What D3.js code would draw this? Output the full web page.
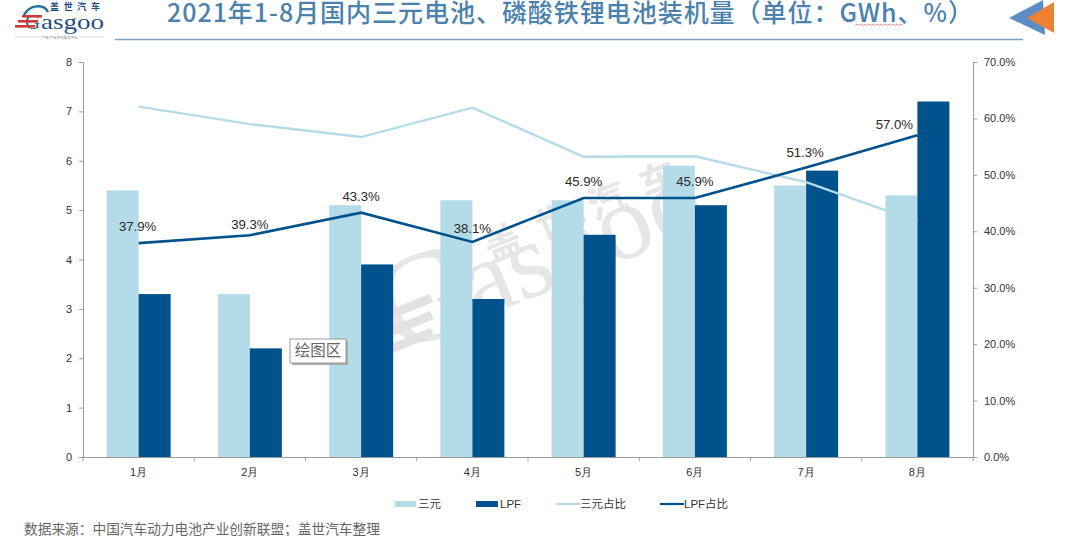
<!DOCTYPE html>
<html><head><meta charset="utf-8">
<script src="https://cdn.jsdelivr.net/npm/d3@7/dist/d3.min.js"></script>
<style>
html,body{margin:0;padding:0;background:#fff;overflow:hidden}
svg{display:block;font-family:"Liberation Sans","Noto Sans CJK SC",sans-serif}
</style></head><body>
<svg id="c" width="1080" height="536"></svg>
<script>
const months=["1月","2月","3月","4月","5月","6月","7月","8月"];
const sanyuan=[5.4,3.3,5.1,5.2,5.2,5.9,5.5,5.3];
const lpf=[3.3,2.2,3.9,3.2,4.5,5.1,5.8,7.2];
const sanyuanShare=[62.1,59.0,56.7,61.9,53.2,53.3,48.7,41.7];
const lpfShare=[37.9,39.3,43.3,38.1,45.9,45.9,51.3,57.0];
const leftTicks=[0,1,2,3,4,5,6,7,8];
const rightTicks=[0,10,20,30,40,50,60,70];
const titleText="2021年1-8月国内三元电池、磷酸铁锂电池装机量（单位：GWh、%）";
const sourceText="数据来源：中国汽车动力电池产业创新联盟；盖世汽车整理";
const labelDx=[-1,0,0,0,0,0,-1,-23];
const labelDy=[-12,-6,-12,-9,-12,-12,-11,-6];
const LIGHT="#b4dbe8",DARK="#00528c",AXIS="#9a9a9a",TXT="#333";
const SERIF='"Liberation Serif",serif';
const svg=d3.select("#c");
const L=83,R=973,T=62,B=457;
const x=d3.scaleBand().domain(months).range([L,R]);
const yL=d3.scaleLinear().domain([0,8]).range([B,T]);
const yR=d3.scaleLinear().domain([0,70]).range([B,T]);
const barW=32;
const cx=m=>x(m)+x.bandwidth()/2;

// header
svg.append("text").attr("x",167).attr("y",22).style("font-family",'"Noto Sans CJK SC",sans-serif')
 .attr("font-size",25).attr("font-weight",500).attr("fill","#4a81ad")
 .attr("textLength",806).attr("lengthAdjust","spacing").text(titleText);
svg.append("path").attr("d",d3.range(0,50,2).map((d,i)=>(i?"L":"M")+(855+d)+","+(i%2?24:25.5)).join("")).attr("fill","none").attr("stroke","#d66").attr("stroke-width",.7);
svg.append("line").attr("x1",115).attr("x2",1023).attr("y1",39.5).attr("y2",39.5).attr("stroke","#7ea6c0").attr("stroke-width",1.3);
svg.append("path").attr("d","M1009,18 L1043,0 L1045,35 Z").attr("fill","#5b8cc4");
svg.append("path").attr("d","M1027,18 L1054,2 L1054,33 Z").attr("fill","#ee7f33");

// logo
const logo=svg.append("g");
logo.append("text").attr("x",50).attr("y",10).attr("font-size",9).attr("font-weight",700).attr("textLength",50).attr("fill","#1f4f7f").text("盖世汽车");
logo.append("path").attr("d","M24,15 C30,4 44,4 48,12").attr("fill","none").attr("stroke","#1f6f9f").attr("stroke-width",2.4);
logo.append("text").attr("x",41).attr("y",29).style("font-family",SERIF).attr("font-size",21).attr("textLength",63).attr("lengthAdjust","spacingAndGlyphs").attr("fill","#1f4f7f").text("asgoo");
logo.append("text").attr("x",25).attr("y",29).style("font-family",SERIF).attr("font-size",21).attr("fill","#1f6f9f").text("G");
[[22,15],[18,20],[15,25]].forEach(([a,b])=>logo.append("rect").attr("x",a).attr("y",b).attr("width",20).attr("height",2.6).attr("fill","#cf3a37"));
logo.append("line").attr("x1",15).attr("x2",104).attr("y1",37).attr("y2",37).attr("stroke","#ccc").attr("stroke-width",.7);
logo.append("text").attr("x",60).attr("y",38.5).attr("text-anchor","middle").attr("font-size",3.6).attr("fill","#888").style("paint-order","stroke").attr("stroke","#fff").attr("stroke-width",2).text("汽车产业资讯服务平台");

// watermark
const wm=svg.append("g").attr("fill","#e6e6e6").attr("transform","translate(477,320) rotate(-22)");
wm.append("text").attr("x",-88).attr("y",2).style("font-family",SERIF).attr("font-size",130).text("G");
wm.append("text").attr("x",0).attr("y",0).style("font-family",SERIF).attr("font-size",108).text("asgoo");
[0,1,2].forEach(i=>wm.append("rect").attr("x",-78-i*6).attr("y",-42+i*16).attr("width",44).attr("height",9).attr("fill","#e2e2e2"));
wm.append("text").attr("x",34).attr("y",-48).attr("font-size",38).attr("font-weight",700).attr("letter-spacing",18).text("盖世汽车");

// bars
svg.append("g").selectAll("rect").data(months).join("rect")
 .attr("x",m=>cx(m)-barW).attr("width",barW)
 .attr("y",(m,i)=>yL(sanyuan[i])).attr("height",(m,i)=>B-yL(sanyuan[i])).attr("fill",LIGHT);
svg.append("g").selectAll("rect").data(months).join("rect")
 .attr("x",m=>cx(m)).attr("width",barW)
 .attr("y",(m,i)=>yL(lpf[i])).attr("height",(m,i)=>B-yL(lpf[i])).attr("fill",DARK);

// axes
const ax=(g,s)=>{g.selectAll(".domain,.tick line").attr("stroke",AXIS);g.selectAll("text").attr("fill",TXT).attr("font-size",s);};
svg.append("g").attr("transform",`translate(${L},0)`)
 .call(d3.axisLeft(yL).tickValues(leftTicks).tickSize(4).tickPadding(7).tickFormat(d3.format("d"))).call(ax,11);
svg.append("g").attr("transform",`translate(${R},0)`)
 .call(d3.axisRight(yR).tickValues(rightTicks).tickSize(4).tickPadding(7).tickFormat(d=>d.toFixed(1)+"%")).call(ax,11);
const xa=svg.append("g").attr("transform",`translate(0,${B})`)
 .call(d3.axisBottom(x).tickSize(0).tickPadding(11)).call(ax,11);
xa.selectAll(".domain").attr("d",`M${L},0.5H${R}`);
svg.append("g").selectAll("line").data(d3.range(months.length+1)).join("line")
 .attr("x1",i=>L+i*x.bandwidth()).attr("x2",i=>L+i*x.bandwidth()).attr("y1",B).attr("y2",B+4).attr("stroke",AXIS);

// lines
const ln=d3.line().x((d,i)=>cx(months[i])).y(d=>yR(d));
svg.append("path").attr("d",ln(sanyuanShare)).attr("fill","none").attr("stroke",LIGHT).attr("stroke-width",2.4);
svg.append("path").attr("d",ln(lpfShare)).attr("fill","none").attr("stroke",DARK).attr("stroke-width",2.6);

// labels
svg.append("g").selectAll("text").data(lpfShare).join("text")
 .attr("x",(d,i)=>cx(months[i])+labelDx[i]).attr("y",(d,i)=>yR(d)+labelDy[i]).attr("text-anchor","middle")
 .attr("font-size",13.2).attr("fill","#2a2a2a").text(d=>d.toFixed(1)+"%");

// floating tooltip
const tip=svg.append("g");
tip.append("rect").attr("x",292).attr("y",341).attr("width",56).attr("height",24).attr("fill","#aaa");
tip.append("rect").attr("x",290).attr("y",339).attr("width",56).attr("height",24).attr("fill","#fff").attr("stroke","#999");
tip.append("text").attr("x",318).attr("y",356).attr("text-anchor","middle").attr("font-size",15.5).attr("fill","#666").text("绘图区");

// legend
const leg=svg.append("g");
const items=[["三元","bar",LIGHT,395,418],["LPF","bar",DARK,476,500],["三元占比","line",LIGHT,556,580],["LPF占比","line",DARK,660,684]];
items.forEach(([t,k,c,a,tx])=>{
 if(k==="bar")leg.append("rect").attr("x",a).attr("y",501).attr("width",tx-a-2).attr("height",6).attr("fill",c);
 else leg.append("line").attr("x1",a).attr("x2",tx).attr("y1",504).attr("y2",504).attr("stroke",c).attr("stroke-width",2.2);
 leg.append("text").attr("x",tx).attr("y",508).attr("font-size",11.5).attr("fill",TXT).text(t);
});

// source
svg.append("text").attr("x",24).attr("y",534).attr("font-size",13.7).attr("fill","#666").text(sourceText);
</script></body></html>
